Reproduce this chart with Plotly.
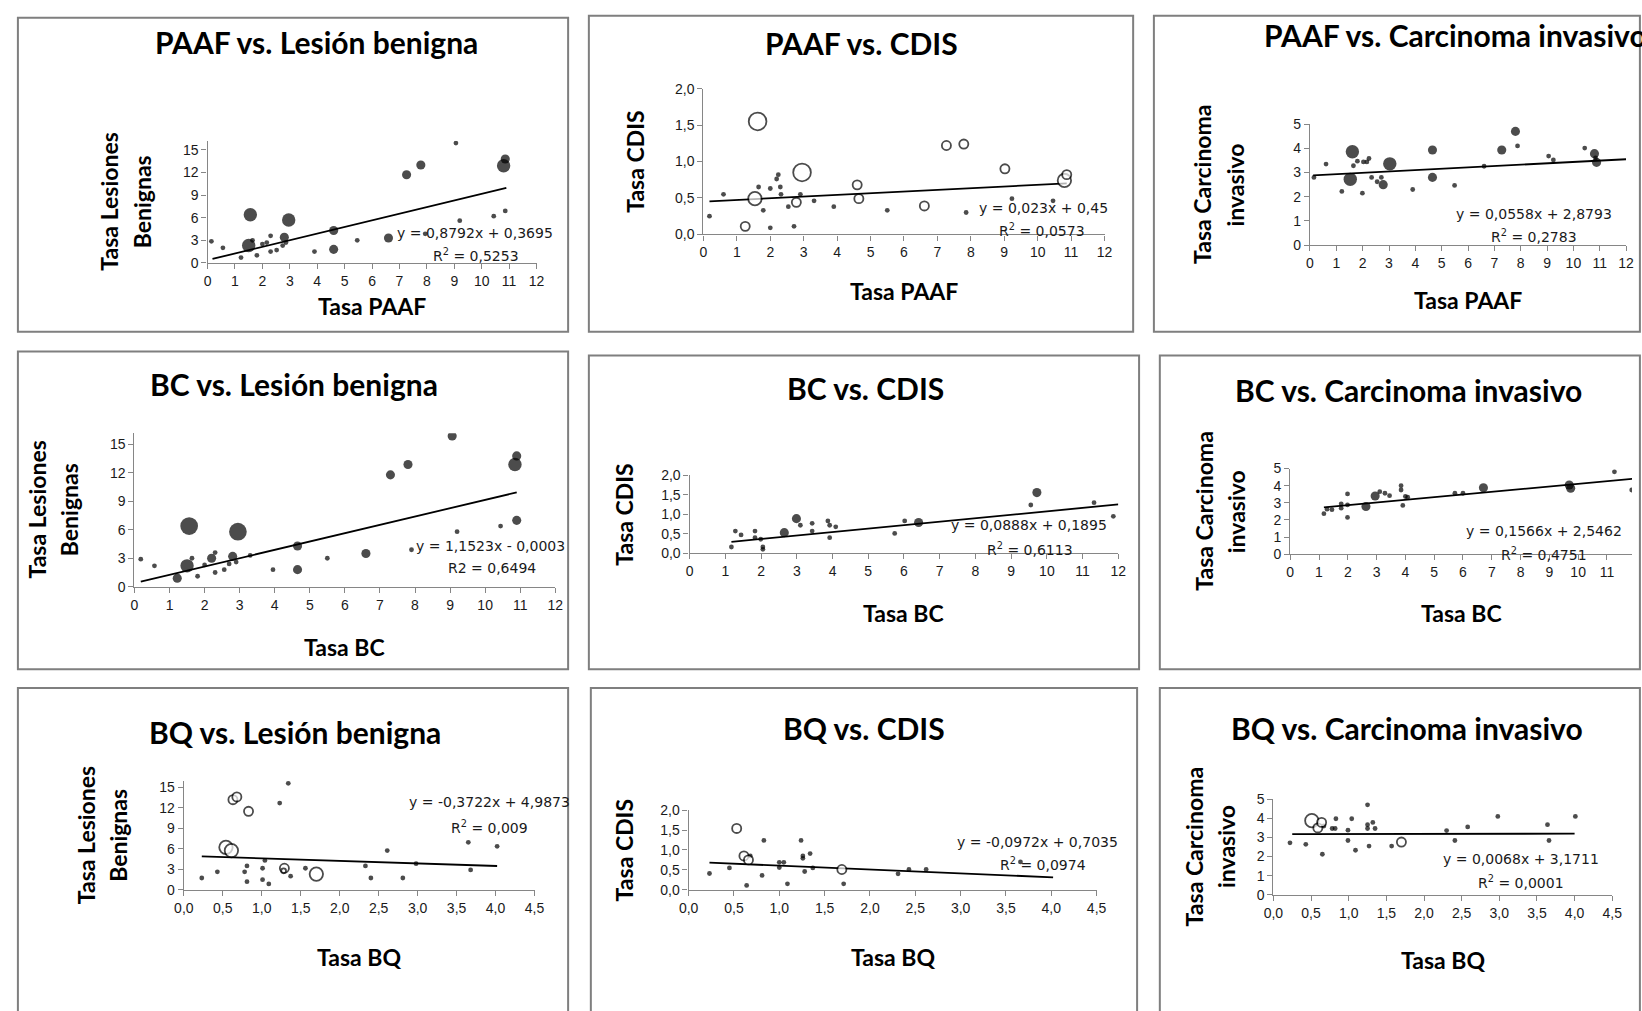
import plotly.graph_objects as go

W, H = 1642, 1011

# ---------------- data ----------------
# bubble value: magnitude = bubble size, negative = shown as hollow bubble (Excel negative bubbles)
# Panel 1: PAAF vs. Lesión benigna
p1_x = [0.14, 0.56, 1.22, 1.56, 1.5, 1.64, 1.8, 2.0, 2.16, 2.3, 2.3, 2.52, 2.74, 2.8, 2.86, 2.96, 3.9, 4.6, 4.6,
        5.46, 6.6, 7.26, 7.78, 7.94, 9.06, 9.2, 10.44, 10.8, 10.86, 10.86]
p1_y = [2.86, 2.0, 0.7, 6.4, 2.3, 3.0, 1.0, 2.5, 2.7, 3.6, 1.5, 1.7, 2.3, 3.4, 2.7, 5.7, 1.5, 4.3, 1.8,
        3.0, 3.3, 11.7, 13.0, 3.86, 15.9, 5.6, 6.2, 12.9, 13.8, 6.9]
p1_b = [1, 1, 1, 3, 3, 1, 1, 1, 1, 1, 1, 1, 1, 2, 1, 3, 1, 2, 2, 1, 2, 2, 2, 1, 1, 1, 1, 3, 2, 1]
p1_line = [0.8792, 0.3695]
p1_tx = [0.18, 10.9]
p1_eq = "y = 0,8792x + 0,3695"
p1_r2 = "R<sup>2</sup> = 0,5253"

# Panel 2: PAAF vs. CDIS
p2_x = [0.18, 0.6, 1.25, 1.62, 1.54, 1.65, 1.79, 2.0, 2.0, 2.19, 2.24, 2.3, 2.32, 2.54, 2.71, 2.78, 2.9, 2.95,
        3.31, 3.9, 4.6, 4.65, 5.5, 6.61, 7.27, 7.79, 7.86, 9.02, 9.23, 10.46, 10.8, 10.87]
p2_y = [0.25, 0.55, 0.11, 1.55, 0.49, 0.65, 0.33, 0.63, 0.09, 0.76, 0.82, 0.65, 0.55, 0.38, 0.11, 0.44, 0.55, 0.85,
        0.46, 0.38, 0.68, 0.49, 0.33, 0.39, 1.22, 1.24, 0.3, 0.9, 0.49, 0.46, 0.74, 0.82]
p2_b = [1, 1, -2, -4, -3, 1, 1, 1, 1, 1, 1, 1, 1, 1, 1, -2, 1, -4, 1, 1, -2, -2, 1, -2, -2, -2, 1, -2, 1, 1, -3, -2]
p2_line = [0.023, 0.45]
p2_tx = [0.18, 10.87]
p2_eq = "y = 0,023x + 0,45"
p2_r2 = "R<sup>2</sup> = 0,0573"

# Panel 3: PAAF vs. Carcinoma invasivo
p3_x = [0.15, 0.61, 1.21, 1.53, 1.61, 1.65, 1.8, 1.99, 2.03, 2.16, 2.24, 2.34, 2.55, 2.71, 2.78, 3.03, 3.9, 4.65,
        4.65, 5.49, 6.61, 7.28, 7.8, 7.88, 9.06, 9.24, 10.43, 10.8, 10.84, 10.88]
p3_y = [2.8, 3.35, 2.22, 2.72, 3.86, 3.28, 3.47, 2.15, 3.44, 3.44, 3.58, 2.8, 2.62, 2.8, 2.5, 3.36, 2.3, 3.93,
        2.8, 2.47, 3.26, 3.93, 4.7, 4.1, 3.68, 3.52, 4.01, 3.78, 3.6, 3.42]
p3_b = [1, 1, 1, 3, 3, 1, 1, 1, 1, 1, 1, 1, 1, 1, 2, 3, 1, 2, 2, 1, 1, 2, 2, 1, 1, 1, 1, 2, 1, 2]
p3_line = [0.0558, 2.8793]
p3_tx = [0.12, 12.0]
p3_eq = "y = 0,0558x + 2,8793"
p3_r2 = "R<sup>2</sup> = 0,2783"

# Panel 4: BC vs. Lesión benigna
p4_x = [0.18, 0.57, 1.22, 1.56, 1.5, 1.64, 1.8, 2.0, 2.2, 2.3, 2.3, 2.56, 2.7, 2.8, 2.9, 2.95, 3.3, 3.95, 4.65,
        4.65, 5.5, 6.6, 7.3, 7.8, 7.9, 9.06, 9.2, 10.44, 10.85, 10.9, 10.9]
p4_y = [2.9, 2.2, 0.9, 6.4, 2.2, 3.0, 1.1, 2.3, 3.0, 3.6, 1.5, 1.8, 2.4, 3.2, 2.6, 5.8, 3.3, 1.8, 4.3,
        1.8, 3.0, 3.5, 11.8, 12.9, 3.9, 15.9, 5.8, 6.4, 12.9, 13.8, 7.0]
p4_b = [1, 1, 2, 4, 3, 1, 1, 1, 2, 1, 1, 1, 1, 2, 1, 4, 1, 1, 2, 2, 1, 2, 2, 2, 1, 2, 1, 1, 3, 2, 2]
p4_line = [0.8792, 0.3695]
p4_tx = [0.18, 10.9]
p4_eq = "y = 1,1523x - 0,0003"
p4_r2 = "R2 = 0,6494"

# Panel 5: BC vs. CDIS
p5_x = [1.17, 1.28, 1.44, 1.83, 1.83, 1.99, 2.05, 2.05, 2.65, 2.99, 3.1, 3.43, 3.43, 3.87, 3.92, 3.92, 4.09,
        5.74, 6.02, 6.41, 9.55, 9.72, 11.32, 11.86]
p5_y = [0.16, 0.57, 0.47, 0.57, 0.4, 0.36, 0.16, 0.1, 0.53, 0.89, 0.72, 0.77, 0.57, 0.83, 0.72, 0.4, 0.68,
        0.51, 0.83, 0.79, 1.24, 1.56, 1.3, 0.95]
p5_b = [1, 1, 1, 1, 1, 1, 1, 1, 2, 2, 1, 1, 1, 1, 1, 1, 1, 1, 1, 2, 1, 2, 1, 1]
p5_line = [0.0888, 0.1895]
p5_tx = [1.17, 12.0]
p5_eq = "y = 0,0888x + 0,1895"
p5_r2 = "R<sup>2</sup> = 0,6113"

# Panel 6: BC vs. Carcinoma invasivo
p6_x = [1.17, 1.28, 1.45, 1.77, 1.77, 1.99, 1.99, 1.99, 2.63, 2.95, 3.11, 3.29, 3.45, 3.85, 3.85, 3.91, 4.0,
        4.08, 5.72, 6.0, 6.71, 9.69, 9.74, 11.26, 11.86]
p6_y = [2.37, 2.63, 2.6, 2.94, 2.69, 3.52, 2.88, 2.15, 2.79, 3.4, 3.65, 3.56, 3.42, 4.0, 3.75, 2.85, 3.37,
        3.33, 3.56, 3.56, 3.88, 4.04, 3.85, 4.81, 3.75]
p6_b = [1, 1, 1, 1, 1, 1, 1, 1, 2, 2, 1, 1, 1, 1, 1, 1, 1, 1, 1, 1, 2, 2, 2, 1, 1]
p6_line = [0.1566, 2.5462]
p6_tx = [1.17, 12.0]
p6_eq = "y = 0,1566x + 2,5462"
p6_r2 = "R<sup>2</sup> = 0,4751"

# Panel 7: BQ vs. Lesión benigna
p7_x = [0.23, 0.43, 0.54, 0.61, 0.63, 0.68, 0.78, 0.81, 0.81, 0.83, 1.01, 1.01, 1.04, 1.09, 1.23, 1.29, 1.28,
        1.34, 1.37, 1.56, 1.7, 2.33, 2.4, 2.61, 2.81, 2.98, 3.65, 3.68, 4.02]
p7_y = [1.73, 2.64, 6.23, 5.75, 13.2, 13.6, 2.64, 3.5, 1.2, 11.5, 3.16, 1.49, 4.31, 0.86, 12.7, 3.16, 2.78,
        15.6, 2.0, 3.16, 2.3, 3.5, 1.73, 5.75, 1.73, 3.83, 6.95, 2.92, 6.37]
p7_b = [1, 1, -3, -3, -2, -2, 1, 1, 1, -2, 1, 1, 1, 1, 1, -2, -1, 1, 1, 1, -3, 1, 1, 1, 1, 1, 1, 1, 1]
p7_line = [-0.3722, 4.9873]
p7_tx = [0.23, 4.02]
p7_eq = "y = -0,3722x + 4,9873"
p7_r2 = "R<sup>2</sup> = 0,009"

# Panel 8: BQ vs. CDIS
p8_x = [0.23, 0.45, 0.53, 0.61, 0.66, 0.68, 0.64, 0.81, 0.83, 1.0, 1.0, 1.05, 1.09, 1.24, 1.26, 1.26, 1.28,
        1.34, 1.37, 1.69, 1.71, 2.31, 2.43, 2.62, 3.66]
p8_y = [0.41, 0.55, 1.54, 0.85, 0.75, 0.85, 0.11, 0.36, 1.24, 0.56, 0.69, 0.69, 0.15, 1.24, 0.85, 0.79, 0.46,
        0.91, 0.55, 0.51, 0.15, 0.4, 0.51, 0.51, 0.7]
p8_b = [1, 1, -2, -2, -2, 1, 1, 1, 1, 1, 1, 1, 1, 1, 1, 1, 1, 1, 1, -2, 1, 1, 1, 1, 1]
p8_line = [-0.0972, 0.7035]
p8_tx = [0.23, 4.02]
p8_eq = "y = -0,0972x + 0,7035"
p8_r2 = "R<sup>2</sup> = 0,0974"

# Panel 9: BQ vs. Carcinoma invasivo
p9_x = [0.22, 0.43, 0.51, 0.59, 0.64, 0.65, 0.67, 0.78, 0.82, 0.83, 0.99, 0.99, 1.04, 1.09, 1.25, 1.25, 1.25,
        1.27, 1.32, 1.35, 1.57, 1.7, 2.3, 2.41, 2.58, 2.98, 3.64, 3.66, 4.01]
p9_y = [2.72, 2.64, 3.88, 3.5, 3.79, 2.12, 3.6, 3.47, 3.47, 3.98, 3.38, 2.84, 3.98, 2.33, 4.71, 3.67, 3.47,
        2.55, 3.79, 3.47, 2.55, 2.76, 3.36, 2.84, 3.55, 4.1, 3.67, 2.84, 4.1]
p9_b = [1, 1, -3, -2, -2, 1, 1, 1, 1, 1, 1, 1, 1, 1, 1, 1, 1, 1, 1, 1, 1, -2, 1, 1, 1, 1, 1, 1, 1]
p9_line = [0.0068, 3.1711]
p9_tx = [0.25, 4.0]
p9_eq = "y = 0,0068x + 3,1711"
p9_r2 = "R<sup>2</sup> = 0,0001"

titles = ["PAAF vs. Lesión benigna", "PAAF vs. CDIS", "PAAF vs. Carcinoma invasivo",
          "BC vs. Lesión benigna", "BC vs. CDIS", "BC vs. Carcinoma invasivo",
          "BQ vs. Lesión benigna", "BQ vs. CDIS", "BQ vs. Carcinoma invasivo"]
x_titles = ["Tasa PAAF", "Tasa PAAF", "Tasa PAAF", "Tasa BC", "Tasa BC", "Tasa BC", "Tasa BQ", "Tasa BQ", "Tasa BQ"]
y_titles = [["Tasa Lesiones", "Benignas"], ["Tasa CDIS"], ["Tasa Carcinoma", "invasivo"]] * 3

x_ticks_rate = [0, 1, 2, 3, 4, 5, 6, 7, 8, 9, 10, 11, 12]
x_ticks_bq = [0, 0.5, 1.0, 1.5, 2.0, 2.5, 3.0, 3.5, 4.0, 4.5]
y_ticks_ben = [0, 3, 6, 9, 12, 15]
y_ticks_cdis = [0, 0.5, 1.0, 1.5, 2.0]
y_ticks_inv = [0, 1, 2, 3, 4, 5]

series = [
    (p1_x, p1_y, p1_b, p1_line, p1_tx, p1_eq, p1_r2),
    (p2_x, p2_y, p2_b, p2_line, p2_tx, p2_eq, p2_r2),
    (p3_x, p3_y, p3_b, p3_line, p3_tx, p3_eq, p3_r2),
    (p4_x, p4_y, p4_b, p4_line, p4_tx, p4_eq, p4_r2),
    (p5_x, p5_y, p5_b, p5_line, p5_tx, p5_eq, p5_r2),
    (p6_x, p6_y, p6_b, p6_line, p6_tx, p6_eq, p6_r2),
    (p7_x, p7_y, p7_b, p7_line, p7_tx, p7_eq, p7_r2),
    (p8_x, p8_y, p8_b, p8_line, p8_tx, p8_eq, p8_r2),
    (p9_x, p9_y, p9_b, p9_line, p9_tx, p9_eq, p9_r2),
]

# ---------------- layout (pixel geometry) ----------------
# box: panel frame (x0, y0, x1, y1); plot: (xleft, xright, ybottom, ytop) in px
geom = [
    dict(box=(8, 10, 565, 329), plot=(200, 533, 259, 135), xr=[0, 12], yr=[0, 16.2],
         title=(310, 35, "center"), eq=(471, 229), r2=(472, 251), ytx=[100, 134], xty=303),
    dict(box=(586, 8, 1137, 329), plot=(702, 1108, 230, 82), xr=[0, 12], yr=[0, 2],
         title=(862, 36, "center"), eq=(1046, 203), r2=(1045, 226), ytx=[632], xty=288),
    dict(box=(1158, 8, 1650, 329), plot=(1316, 1636, 241, 118), xr=[0, 12], yr=[0, 5],
         title=(1267, 27, "left"), eq=(1543, 209), r2=(1543, 232), ytx=[1206, 1240], xty=297),
    dict(box=(8, 349, 565, 672), plot=(126, 552, 588, 432), xr=[0, 12], yr=[0, 16.2],
         title=(288, 382, "center"), eq=(486, 547), r2=(488, 569), ytx=[27, 60], xty=649),
    dict(box=(586, 353, 1143, 672), plot=(688, 1122, 554, 475), xr=[0, 12], yr=[0, 2],
         title=(866, 386, "center"), eq=(1032, 525), r2=(1033, 550), ytx=[622], xty=615),
    dict(box=(1164, 353, 1650, 672), plot=(1296, 1642, 555, 468), xr=[0, 11.87], yr=[0, 5],
         title=(1416, 388, "center"), eq=(1553, 531), r2=(1553, 555), ytx=[1209, 1242], xty=615),
    dict(box=(8, 691, 565, 1030), plot=(176, 531, 896, 785), xr=[0, 4.5], yr=[0, 16],
         title=(289, 736, "center"), eq=(485, 807), r2=(485, 832), ytx=[77, 110], xty=964),
    dict(box=(588, 691, 1141, 1030), plot=(687, 1100, 896, 815), xr=[0, 4.5], yr=[0, 2],
         title=(865, 732, "center"), eq=(1040, 847), r2=(1046, 870), ytx=[622], xty=964),
    dict(box=(1164, 691, 1650, 1030), plot=(1279, 1622, 901, 804), xr=[0, 4.5], yr=[0, 5],
         title=(1414, 732, "center"), eq=(1530, 865), r2=(1530, 888), ytx=[1199, 1231], xty=967),
]


def px(v):
    return v / W


def py(v):
    return 1 - v / H


def diam(v):
    return 4.3 * abs(v) + 0.5


TICK_FONT = dict(family="Liberation Sans", size=14, color="#1a1a1a")
AX_COLOR = "#868686"

fig = go.Figure()
annotations = []
shapes = []
layout = {}

for i, ((xs, ys, bs, line, tx, eq, r2), g) in enumerate(zip(series, geom)):
    n = i + 1
    xa = "x" if n == 1 else f"x{n}"
    ya = "y" if n == 1 else f"y{n}"
    xl, xr_, yb, yt = g["plot"]
    col = i % 3
    row = i // 3

    # trend line (from fitted equation)
    fig.add_trace(go.Scatter(
        x=tx, y=[line[0] * v + line[1] for v in tx], mode="lines",
        line=dict(color="black", width=1.8), xaxis=xa, yaxis=ya, showlegend=False, hoverinfo="skip"))

    # filled bubbles
    fx = [a for a, b in zip(xs, bs) if b > 0]
    fy = [a for a, b in zip(ys, bs) if b > 0]
    fs = [diam(b) for b in bs if b > 0]
    fig.add_trace(go.Scatter(
        x=fx, y=fy, mode="markers", marker=dict(size=fs, color="black", line=dict(width=0)),
        xaxis=xa, yaxis=ya, showlegend=False))
    # hollow (negative) bubbles
    ox = [a for a, b in zip(xs, bs) if b < 0]
    oy = [a for a, b in zip(ys, bs) if b < 0]
    os_ = [diam(b) for b in bs if b < 0]
    if ox:
        fig.add_trace(go.Scatter(
            x=ox, y=oy, mode="markers",
            marker=dict(size=os_, color="white", line=dict(width=1.8, color="black")),
            xaxis=xa, yaxis=ya, showlegend=False))

    xticks = x_ticks_bq if row == 2 else x_ticks_rate
    yticks = [y_ticks_ben, y_ticks_cdis, y_ticks_inv][col]
    xfmt = ".1f" if row == 2 else "d"
    yfmt = ".1f" if col == 1 else "d"

    layout["xaxis" if n == 1 else f"xaxis{n}"] = dict(
        domain=[px(xl), min(1.0, px(xr_))], range=g["xr"], anchor=ya,
        tickmode="array", tickvals=xticks, tickformat=xfmt,
        showline=True, linecolor=AX_COLOR, linewidth=1.3, ticks="outside", ticklen=5,
        tickcolor=AX_COLOR, tickwidth=1.3, showgrid=False, zeroline=False, tickfont=TICK_FONT)
    layout["yaxis" if n == 1 else f"yaxis{n}"] = dict(
        domain=[py(yb), py(yt)], range=g["yr"], anchor=xa,
        tickmode="array", tickvals=yticks, tickformat=yfmt,
        showline=True, linecolor=AX_COLOR, linewidth=1.3, ticks="outside", ticklen=5,
        tickcolor=AX_COLOR, tickwidth=1.3, showgrid=False, zeroline=False, tickfont=TICK_FONT)

    # frame
    bx0, by0, bx1, by1 = g["box"]
    shapes.append(dict(type="rect", xref="paper", yref="paper",
                       x0=px(bx0), x1=px(bx1), y0=py(by1), y1=py(by0),
                       line=dict(color="#7f7f7f", width=2), fillcolor="rgba(0,0,0,0)", layer="below"))

    # title
    tx0, ty0, anc = g["title"]
    annotations.append(dict(text=f"<b>{titles[i]}</b>", x=px(tx0), y=py(ty0), xref="paper", yref="paper",
                            xanchor=anc, yanchor="middle", showarrow=False,
                            font=dict(family="Lato", size=30, color="black")))
    # x-axis title
    annotations.append(dict(text=f"<b>{x_titles[i]}</b>", x=px((xl + min(xr_, 1646)) / 2), y=py(g["xty"]),
                            xref="paper", yref="paper", xanchor="center", yanchor="middle", showarrow=False,
                            font=dict(family="Lato", size=23, color="black")))
    # y-axis title (one annotation per line)
    for line_txt, lx in zip(y_titles[i], g["ytx"]):
        annotations.append(dict(text=f"<b>{line_txt}</b>", x=px(lx), y=py((yb + yt) / 2),
                                xref="paper", yref="paper", xanchor="center", yanchor="middle",
                                showarrow=False, textangle=-90,
                                font=dict(family="Lato", size=23, color="black")))
    # equation + R2
    for txt, pos in ((eq, g["eq"]), (r2, g["r2"])):
        annotations.append(dict(text=txt, x=px(pos[0]), y=py(pos[1]), xref="paper", yref="paper",
                                xanchor="center", yanchor="middle", showarrow=False,
                                font=dict(family="DejaVu Sans", size=14, color="#1a1a1a")))

fig.update_layout(
    width=W, height=H, margin=dict(l=0, r=0, t=0, b=0),
    paper_bgcolor="white", plot_bgcolor="rgba(0,0,0,0)",
    separators=", ", showlegend=False,
    annotations=annotations, shapes=shapes, **layout)

fig.write_html("out.html")
